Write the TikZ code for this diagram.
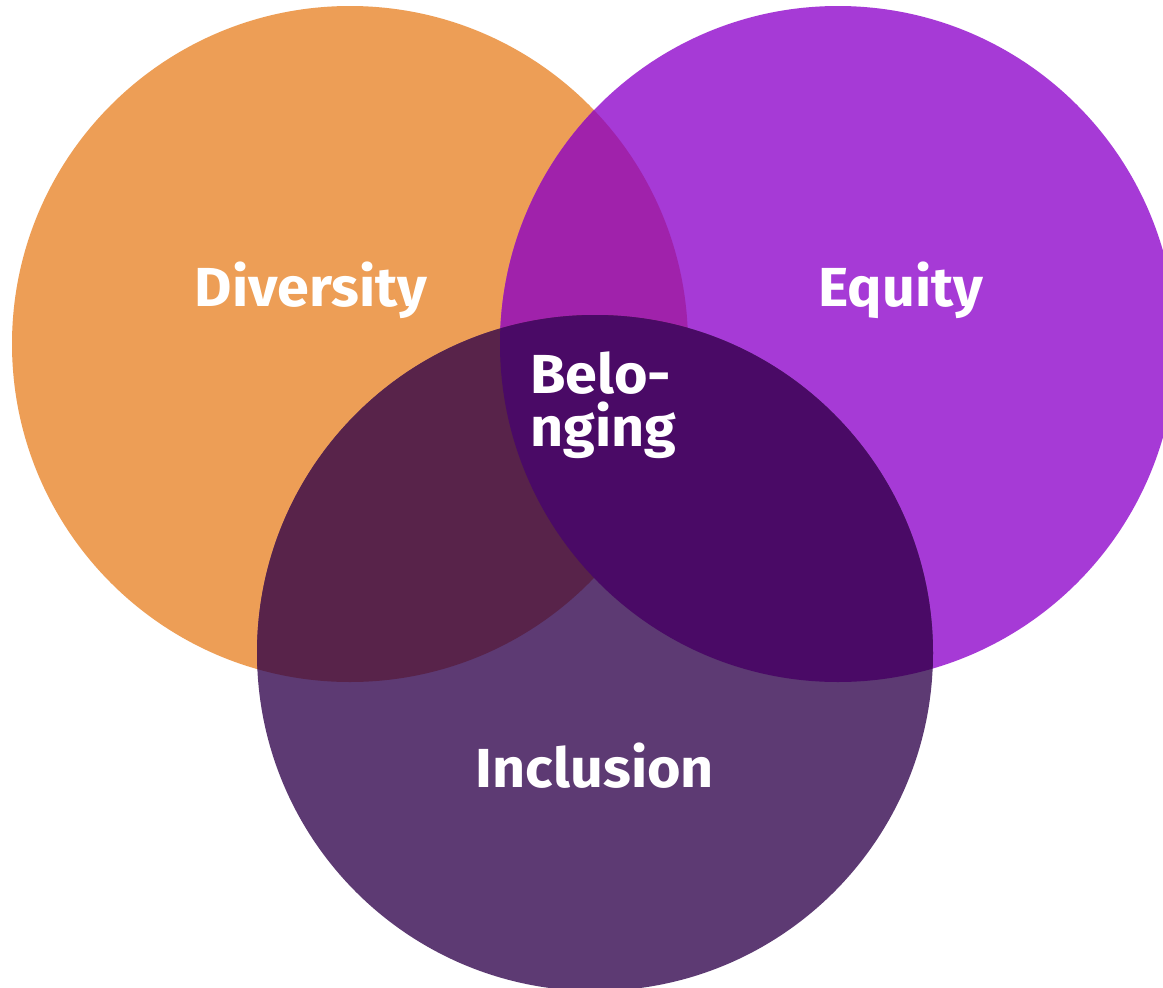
\documentclass[tikz,border=0pt]{standalone}
\usepackage{fontspec}
\setmainfont{Fira Sans}[FakeStretch=1.045]
\definecolor{divcol}{HTML}{ED9E56}
\definecolor{eqcol}{HTML}{A63AD6}
\definecolor{inccol}{HTML}{5D3A73}
\definecolor{deovl}{HTML}{A022AB}
\definecolor{diovl}{HTML}{58234A}
\definecolor{eiovl}{HTML}{4A0A66}
\tikzset{
  label/.style={text=white, font=\fontsize{55}{53}\selectfont\bfseries, inner sep=0pt, anchor=base},
}
\begin{document}
\begin{tikzpicture}[x=1pt,y=-1pt]
  \useasboundingbox (0,0) rectangle (1163,988);
  \fill[white] (0,0) rectangle (1163,988);
  \begin{scope}
    \clip (0,0) rectangle (1163,988);
    % the three sets
    \fill[divcol] (350,344) circle[radius=338pt];
    \fill[eqcol] (838,344) circle[radius=338pt];
    \fill[inccol] (595,653) circle[radius=338pt];
    % pairwise overlaps
    \begin{scope}
      \clip (350,344) circle[radius=338pt];
      \fill[deovl] (838,344) circle[radius=338pt];
      \fill[diovl] (595,653) circle[radius=338pt];
    \end{scope}
    \begin{scope}
      \clip (838,344) circle[radius=338pt];
      \fill[eiovl] (595,653) circle[radius=338pt];
    \end{scope}
  \end{scope}
  % labels
  \node[label] (div) at (311,306) {Diversity};
  \node[label] (eq) at (901,306) {Equity};
  \node[label] (inc) at (595,787) {Inclusion};
  \node[label, anchor=base west] (bel1) at (530,393) {Belo-};
  \node[label, anchor=base west] (bel2) at (530,446) {nging};
\end{tikzpicture}
\end{document}
